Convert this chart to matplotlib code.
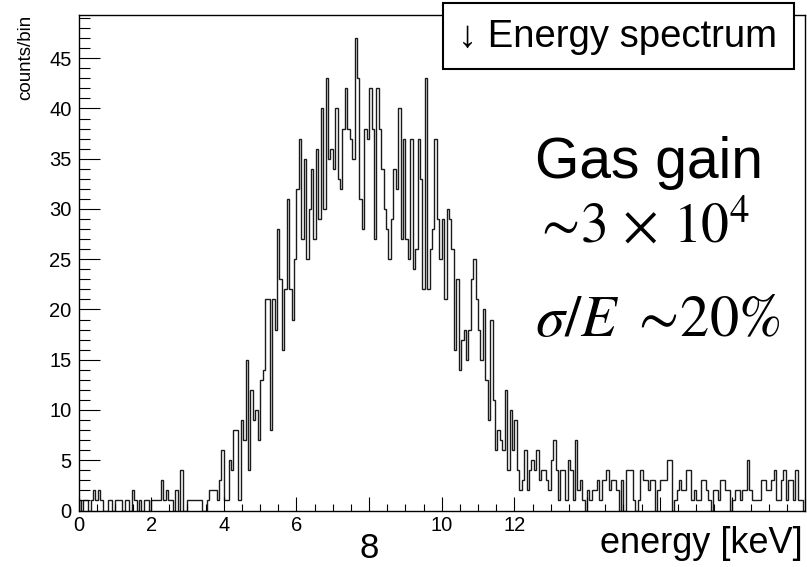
import numpy as np
import matplotlib.pyplot as plt
from matplotlib.patches import Rectangle
from matplotlib.ticker import MultipleLocator, FixedLocator, FixedFormatter

plt.rcParams['font.family'] = ['Liberation Sans', 'DejaVu Sans']
plt.rcParams['mathtext.fontset'] = 'stix'

# counts per bin (300 bins over 0-20 keV)
counts_low = [1, 0, 1, 1, 0, 1, 2, 1, 2, 1, 0, 0, 1, 1, 0, 1, 1, 1, 0, 1,
              1, 0, 2, 1, 0, 1, 0, 1, 1, 0, 1, 1, 1, 1, 3, 1, 2, 1, 1, 0,
              2, 0, 4, 0, 0, 1, 1, 1, 1, 1, 1, 0, 0, 1, 2, 2]
counts_rise = [2, 1, 3, 6, 1, 1, 5, 4, 8, 8, 1, 9, 7, 15, 4, 12, 9, 10, 7, 13,
               14, 21, 21, 8, 21, 18, 28, 23, 16, 22, 31, 22, 19, 25, 32, 37, 27, 35, 25, 30,
               34, 27, 36, 29, 40, 30, 43]
counts_peak = [35, 36, 34, 40, 33, 32, 38, 42, 38, 37, 35, 47, 43, 31, 28, 38, 37, 42, 38, 27,
               42, 38, 34, 30, 28, 25, 29, 34, 32, 40, 27, 37, 27, 25, 37, 24, 26, 37, 33, 22,
               43, 22, 26, 28, 37]
counts_fall = [29, 25, 29, 21, 30, 29, 26, 16, 23, 14, 17, 18, 15, 18, 23, 25, 21, 18, 15, 20,
               13, 9, 19, 11, 6, 8, 7, 6, 12, 4, 10, 6, 9, 4, 2, 3, 6, 2, 4, 5,
               4, 6, 3, 4, 4, 3, 2, 5, 7]
counts_tail = [4, 1, 4, 4, 1, 5, 4, 1, 7, 2, 3, 1, 0, 2, 1, 2, 2, 3, 1, 3,
               3, 4, 2, 3, 3, 2, 0, 3, 0, 4, 4, 4, 1, 0, 1, 4, 3, 3, 2, 3,
               3, 0, 2, 3, 3, 3, 5, 5, 0, 1, 2, 3, 2, 2, 4, 4, 1, 2, 1, 1,
               3, 3, 2, 1, 0, 2, 2, 1, 3, 3, 2, 2, 0, 1, 2, 2, 1, 2, 2, 5,
               2, 1, 1, 1, 1, 3, 3, 2, 2, 3, 4, 1, 1, 3, 4, 1, 3, 3, 1, 4,
               1, 1, 0]

counts = np.array(counts_low + counts_rise + counts_peak + counts_fall + counts_tail)
e_min, e_max = 0.0, 20.0
edges = np.linspace(e_min, e_max, len(counts) + 1)

xticks = [0, 2, 4, 6, 8, 10, 12, 14, 16, 18, 20]
xtick_labels = ['0', '2', '4', '6', '', '10', '12', '', '', '', '']
yticks = [0, 5, 10, 15, 20, 25, 30, 35, 40, 45]

W, H = 807, 567
fig = plt.figure(figsize=(W / 100, H / 100), dpi=100)
ax = fig.add_axes([78.5 / W, 56.5 / H, (805 - 78.5) / W, (510.5 - 15) / H])

ax.stairs(counts, edges, color='#1a1a1a', lw=1.0)
ax.set_xlim(e_min, e_max)
ax.set_ylim(0, 49.3)

ax.xaxis.set_major_locator(FixedLocator(xticks))
ax.xaxis.set_major_formatter(FixedFormatter(xtick_labels))
ax.xaxis.set_minor_locator(MultipleLocator(0.5))
ax.set_yticks(yticks)
ax.yaxis.set_minor_locator(MultipleLocator(1))

ax.tick_params(axis='x', which='major', direction='in', length=10, width=0.8, labelsize=14.5, pad=4)
ax.tick_params(axis='x', which='minor', direction='in', length=5, width=0.8)
ax.tick_params(axis='y', which='major', direction='in', length=15, width=0.8, labelsize=14.5, pad=5)
ax.tick_params(axis='y', which='minor', direction='in', length=8, width=0.8)
for s in ax.spines.values():
    s.set_linewidth(1.0)
    s.set_color('black')

# axis titles and overlays
fig.text(26 / W, 1 - 15 / H, 'counts/bin', rotation=90, ha='center', va='top', fontsize=13.5)
fig.text(369 / W, 1 - 558 / H, '8', ha='center', va='baseline', fontsize=25)
fig.text(803 / W, 1 - 553 / H, 'energy [keV]', ha='right', va='baseline', fontsize=26)

box = Rectangle((443 / W, 1 - 69 / H), (794 - 443) / W, (69 - 3) / H, transform=fig.transFigure,
                facecolor='white', edgecolor='black', lw=1.5, zorder=5)
fig.add_artist(box)
fig.text(617 / W, 1 - 37 / H, '↓ Energy spectrum', ha='center', va='center', fontsize=27.5, zorder=6)

fig.text(535 / W, 1 - 178 / H, 'Gas gain', ha='left', va='baseline', fontsize=41)
fig.text(533 / W, 1 - 243 / H, r'$\sim\!3\,\times\,10^{4}$', ha='left', va='baseline', fontsize=40)
fig.text(535 / W, 1 - 336 / H, r'$\sigma/E\ \sim\!20\%$', ha='left', va='baseline', fontsize=42)

fig.savefig('out.png', dpi=100)
